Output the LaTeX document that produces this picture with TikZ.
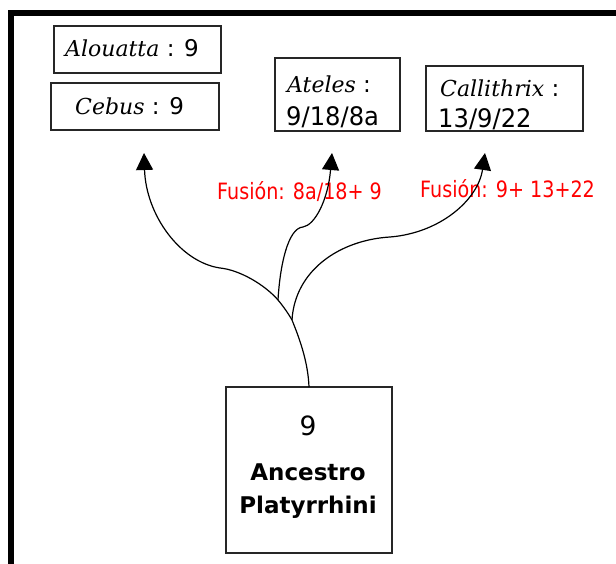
\documentclass[tikz,border=0pt]{standalone}
\usepackage{fontspec}
\setmainfont{DejaVu Sans}
\newfontfamily\genusfont{DejaVu Serif}
\newfontfamily\numfont[FakeStretch=0.95]{DejaVu Sans}
\newfontfamily\redfont[FakeStretch=0.85]{DejaVu Sans}
\usetikzlibrary{arrows.meta}
\begin{document}
\begin{tikzpicture}[x=1pt,y=-1pt,
  box/.style={draw=black!85, line width=1.3pt, inner sep=0pt, outer sep=0pt},
  branch/.style={line width=1.2pt, -{Triangle[length=17pt,width=17pt]}},
  lbl/.style={text=red, font=\redfont\fontsize{22.5}{26}\selectfont, anchor=base west, inner sep=0pt},
  txt/.style={font=\fontsize{23}{28}\selectfont, anchor=base west, inner sep=0pt},
  numtxt/.style={font=\numfont\fontsize{25.5}{30}\selectfont, anchor=base west, inner sep=0pt},
  anctxt/.style={font=\fontsize{23}{28}\selectfont, anchor=base, inner sep=0pt},
  genus/.style={}
]
\useasboundingbox (0,0) rectangle (616,564);
\draw[line width=6pt] (11,600) -- (11,13) -- (660,13);

% boxes
\node[box, minimum width=167pt, minimum height=47pt] (alo) at (137.5,49.5) {};
\node[box, minimum width=168pt, minimum height=47pt] (ceb) at (135,106.5) {};
\node[box, minimum width=125pt, minimum height=73pt] (ate) at (337.5,94.5) {};
\node[box, minimum width=157pt, minimum height=65pt] (cal) at (504.5,98.5) {};
\node[box, minimum width=166pt, minimum height=166pt] (anc) at (309,470) {};

% box texts
\node[txt] (aloT) at (65,57) {{\genusfont\itshape\fontsize{22}{26}\selectfont Alouatta} : 9};
\node[txt] (cebT) at (75,115) {{\genusfont\itshape\fontsize{22}{26}\selectfont Cebus} : 9};
\node[txt] (ateT) at (287,93) {{\genusfont\itshape\fontsize{22}{26}\selectfont Ateles} :};
\node[numtxt] (ateN) at (286,126) {9/18/8a};
\node[txt] (calT) at (440,97) {{\genusfont\itshape\fontsize{22}{26}\selectfont Callithrix} :};
\node[numtxt] (calN) at (438,128) {13/9/22};
\node[anctxt, font=\fontsize{26.5}{30}\selectfont] (ancN) at (308,435) {9};
\node[anctxt] (ancA) at (308,480) {\bfseries Ancestro};
\node[anctxt] (ancP) at (308,513) {\bfseries Platyrrhini};

% red labels
\node[lbl] (fus1) at (217,200) {Fusión: 8a/18+ 9};
\node[lbl] (fus2) at (420,198) {Fusión: 9+ 13+22};

% branch points and arrow ends
\coordinate (j1) at (292,320);
\coordinate (j2) at (278,300);
\coordinate (s1) at (220,268);
\coordinate (w1) at (303,227);
\coordinate (v1) at (390,237);
\coordinate (tC) at (144,153);
\coordinate (tA) at (332,153);
\coordinate (tK) at (485,153);

\draw[branch] (anc.north) .. controls (308,360) and (298,335) .. (j1)
  .. controls (288,313) and (283,306) .. (j2)
  .. controls (265,285) and (240,270) .. (s1)
  .. controls (180,262) and (146,215) .. (tC);
\draw[branch] (j2) .. controls (280,265) and (288,228) .. (w1)
  .. controls (315,225) and (328,200) .. (tA);
\draw[branch] (j1) .. controls (295,270) and (340,240) .. (v1)
  .. controls (440,233) and (478,200) .. (tK);
\end{tikzpicture}
\end{document}
